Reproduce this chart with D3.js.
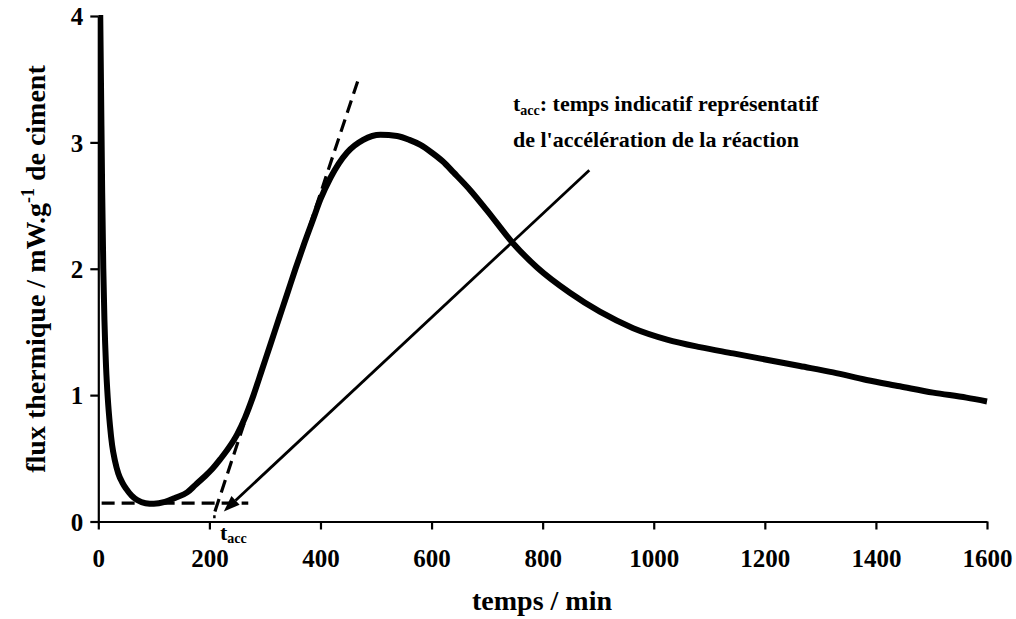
<!DOCTYPE html>
<html><head><meta charset="utf-8">
<script src="https://cdn.jsdelivr.net/npm/d3@7"></script>
<style>
body{margin:0;background:#fff;}
svg text{font-family:"Liberation Serif","Times New Roman","DejaVu Serif",serif !important;font-weight:bold;fill:#000;}
</style></head>
<body><svg id="c" width="1016" height="619"></svg>
<script>
// Data
const timeMin = [3,5,7,9,11,14,17,21,25,30,36,43,50,60,70,85,100,120,140,160,175,190,205,220,236,250,264,279.5,295,310,325,340,355,370,385,400,418,448,477,508,538,560,580,600,620,640,670,700,747,790,849,903,963,1024,1083,1143,1203,1263,1323,1383,1443,1503,1563,1600];
const flux    = [4.2,3.4,2.6,2.0,1.6,1.22,0.98,0.76,0.6,0.48,0.38,0.31,0.26,0.205,0.17,0.145,0.14,0.155,0.19,0.23,0.29,0.35,0.415,0.495,0.59,0.69,0.82,1.0,1.205,1.403,1.602,1.80,2.0,2.19,2.37,2.55,2.72,2.92,3.02,3.06,3.05,3.02,2.98,2.92,2.85,2.76,2.62,2.46,2.20,2.01,1.81,1.66,1.53,1.44,1.38,1.33,1.28,1.23,1.18,1.12,1.07,1.02,0.98,0.95];
const xTicks = [0,200,400,600,800,1000,1200,1400,1600];
const yTicks = [0,1,2,3,4];
const tangentT = [210,469];
const tangentV = [0.08,3.51];
const baselineT = [6,270];
const baselineV = [0.146,0.146];
const arrowT = [884,226];
const arrowV = [2.78,0.08];
const tAcc = 212;

const svg = d3.select("#c");
const x = d3.scaleLinear().domain([0,1600]).range([98.3,987]);
const y = d3.scaleLinear().domain([0,4]).range([521.5,16]);

svg.append("defs").append("clipPath").attr("id","clip")
  .append("rect").attr("x",x(0)).attr("y",y(4)-1).attr("width",x(1600)-x(0)+4).attr("height",y(0)-y(4)+1);

// axes
const xa = svg.append("g").attr("transform",`translate(0,${y(0)})`)
  .call(d3.axisBottom(x).tickValues(xTicks).tickSize(8).tickSizeOuter(0).tickFormat(d3.format("d")));
const ya = svg.append("g").attr("transform",`translate(${x(0)},0)`)
  .call(d3.axisLeft(y).tickValues(yTicks).tickSize(8).tickSizeOuter(0).tickFormat(d3.format("d")));
[xa,ya].forEach(g=>{
  g.selectAll("path,line").attr("stroke","#000").attr("stroke-width",2.2);
  g.selectAll("text").attr("font-size",25);
});
xa.selectAll("text").attr("dy",0).attr("y",45);
ya.selectAll("text").attr("x",-15).attr("dy","0.35em");

// curve
const pts = timeMin.map((t,i)=>[t,flux[i]]);
svg.append("path").attr("clip-path","url(#clip)")
  .attr("d",d3.line().x(d=>x(d[0])).y(d=>y(d[1])).curve(d3.curveMonotoneX)(pts))
  .attr("fill","none").attr("stroke","#000").attr("stroke-width",6).attr("stroke-linejoin","round");

// dashed lines
function seg(tArr,vArr){return tArr.map((t,i)=>[x(t),y(vArr[i])]);}
svg.append("path").attr("d",d3.line()(seg(tangentT,tangentV)))
  .attr("stroke","#000").attr("stroke-width",3.2).attr("stroke-dasharray","13,7").attr("fill","none");
svg.append("path").attr("d",d3.line()(seg(baselineT,baselineV)))
  .attr("stroke","#000").attr("stroke-width",3.2).attr("stroke-dasharray","13,7").attr("fill","none");
svg.append("path").attr("d",d3.line()([[x(tAcc-3),y(0.05)],[x(tAcc-3),y(0)]]))
  .attr("stroke","#000").attr("stroke-width",2.5).attr("stroke-dasharray","3,3").attr("fill","none");

// arrow
const a = seg(arrowT,arrowV);
const ang = Math.atan2(a[1][1]-a[0][1],a[1][0]-a[0][0]);
const L=16, W=6;
const base=[a[1][0]-L*Math.cos(ang),a[1][1]-L*Math.sin(ang)];
svg.append("line").attr("x1",a[0][0]).attr("y1",a[0][1]).attr("x2",base[0]).attr("y2",base[1])
  .attr("stroke","#000").attr("stroke-width",2.8);
svg.append("path").attr("d",`M${a[1][0]},${a[1][1]}L${base[0]-W*Math.sin(ang)},${base[1]+W*Math.cos(ang)}L${base[0]+W*Math.sin(ang)},${base[1]-W*Math.cos(ang)}Z`)
  .attr("fill","#000");

// t_acc label under axis
const tl = svg.append("text").attr("x",220).attr("y",540).attr("font-size",22);
tl.append("tspan").text("t");
tl.append("tspan").attr("font-size",14).attr("dy",3).text("acc");

// annotation
const an = svg.append("text").attr("x",513).attr("y",111).attr("font-size",22);
an.append("tspan").text("t");
an.append("tspan").attr("font-size",14).attr("dy",4).text("acc");
an.append("tspan").attr("dy",-4).text(": temps indicatif représentatif");
svg.append("text").attr("x",513).attr("y",147).attr("font-size",22).text("de l'accélération de la réaction");

// axis titles
svg.append("text").attr("x",542).attr("y",610).attr("text-anchor","middle").attr("font-size",28).text("temps / min");
const yt = svg.append("text").attr("transform","translate(45,269) rotate(-90)").attr("text-anchor","middle").attr("font-size",28);
yt.append("tspan").text("flux thermique / mW.g");
yt.append("tspan").attr("font-size",18).attr("dy",-11).text("-1");
yt.append("tspan").attr("dy",11).text(" de ciment");
</script></body></html>
